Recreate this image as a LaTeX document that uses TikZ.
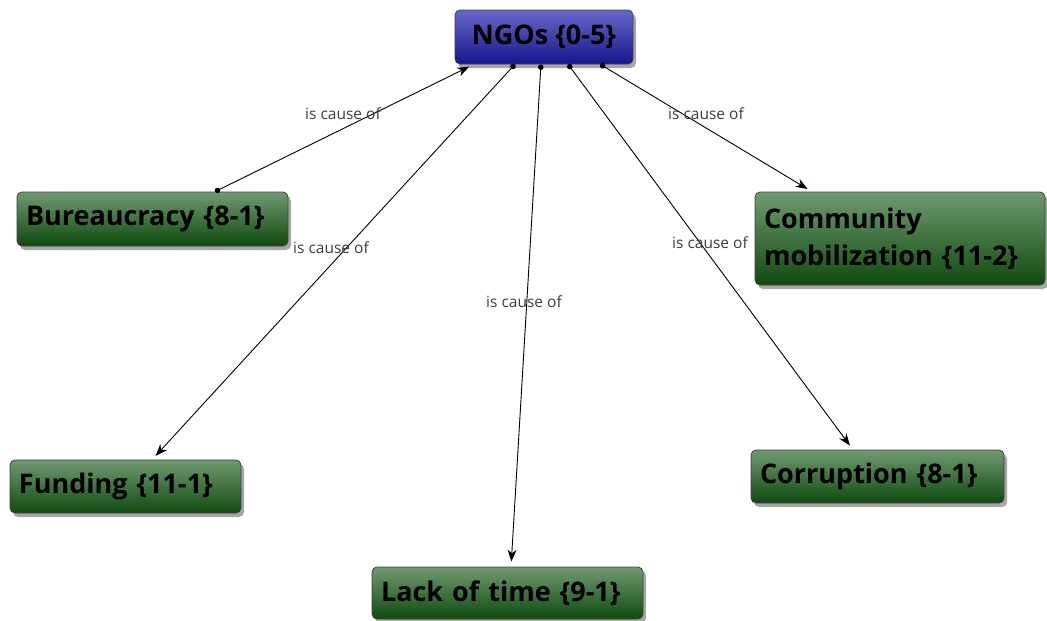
\documentclass[tikz,border=0pt]{standalone}
\usepackage{fontspec}
\setmainfont{Open Sans}
\usetikzlibrary{calc,shadows,arrows.meta}
\definecolor{gtop}{RGB}{112,154,112}
\definecolor{gbot}{RGB}{16,74,16}
\definecolor{btop}{RGB}{104,104,200}
\definecolor{bbot}{RGB}{22,22,140}
\definecolor{lbl}{RGB}{60,60,60}
\tikzset{
  concept/.style={draw=black!75, line width=0.8pt, rounded corners=5pt,
    top color=gtop, bottom color=gbot, inner xsep=9pt, inner ysep=0pt,
    align=left, font=\fontsize{27}{37}\selectfont\bfseries, text=black,
    drop shadow={shadow xshift=3pt, shadow yshift=-4pt, opacity=0.35, fill=black}},
  root/.style={concept, top color=btop, bottom color=bbot, align=center},
  relin/.style={{Circle[length=5.5pt]}-{Stealth[length=12pt,width=9pt]}, line width=0.9pt, shorten >=5pt},
  lab/.style={font=\fontsize{15.5}{18}\selectfont, text=lbl, inner sep=0pt},
}
\begin{document}
\begin{tikzpicture}[x=1pt,y=-1pt]
\useasboundingbox (0,0) rectangle (1047,621);
% nodes
\node[root, minimum width=178pt, minimum height=54pt] (ngo) at (544,37) {NGOs \{0-5\}};
\node[concept, text width=253pt, minimum height=54pt] (bur) at (152.5,219) {Bureaucracy \{8-1\}};
\node[concept, text width=272pt, minimum height=93pt] (com) at (900,238.5) {Community\\mobilization \{11-2\}};
\node[concept, text width=213pt, minimum height=53pt] (fun) at (125.5,486.5) {Funding \{11-1\}};
\node[concept, text width=253pt, minimum height=52pt] (lac) at (507.5,593) {Lack of time \{9-1\}};
\node[concept, text width=235pt, minimum height=53pt] (cor) at (877.5,476.5) {Corruption \{8-1\}};
% connectors
\draw[relin] ($(bur.north west)!0.73!(bur.north east)$) -- ($(ngo.south west)!0.107!(ngo.south east)$);
\draw[relin] ($(ngo.south west)!0.337!(ngo.south east)$) -- ($(fun.north west)!0.615!(fun.north east)$);
\draw[relin] ($(ngo.south west)!0.483!(ngo.south east)$) -- ($(lac.north west)!0.513!(lac.north east)$);
\draw[relin] ($(ngo.south west)!0.635!(ngo.south east)$) -- ($(cor.north west)!0.403!(cor.north east)$);
\draw[relin] ($(ngo.south west)!0.815!(ngo.south east)$) -- ($(com.north west)!0.197!(com.north east)$);
% labels
\node[lab] (l1) at (343,114) {is cause of};
\node[lab] (l2) at (331,248) {is cause of};
\node[lab] (l3) at (524,302) {is cause of};
\node[lab] (l4) at (710,243) {is cause of};
\node[lab] (l5) at (706,114) {is cause of};
\end{tikzpicture}
\end{document}
